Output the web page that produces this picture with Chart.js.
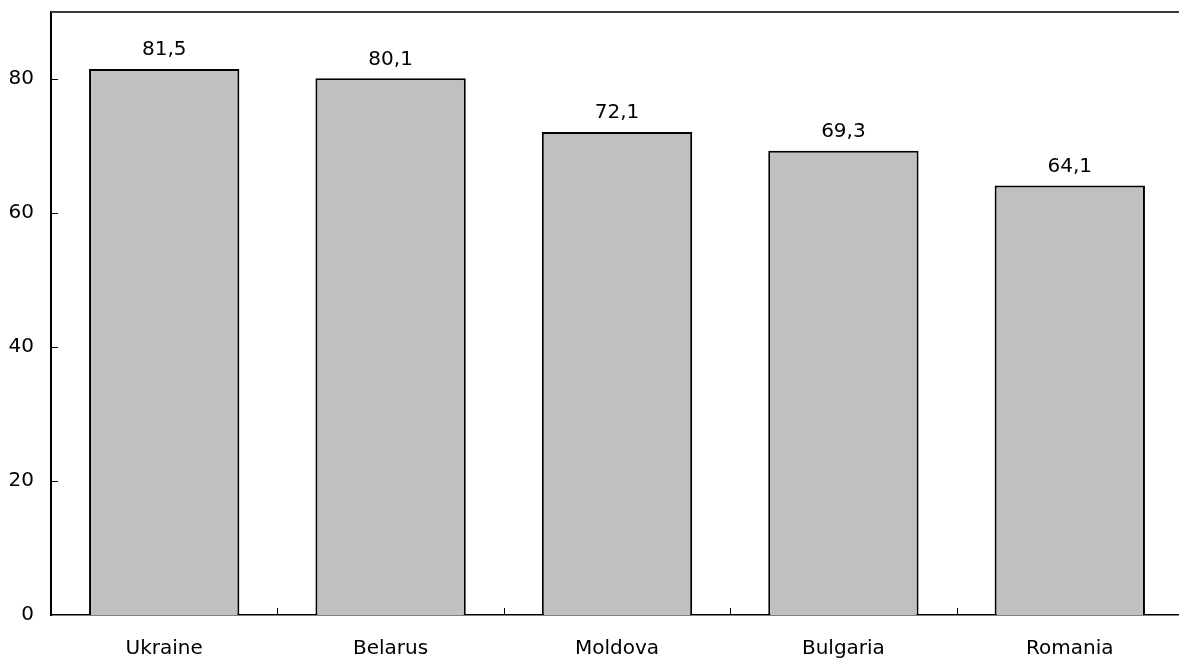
<!DOCTYPE html>
<html>
<head>
<meta charset="utf-8">
<script src="https://cdn.jsdelivr.net/npm/chart.js@4"></script>
<style>
  html, body { margin: 0; padding: 0; background: #fff; overflow: hidden; }
  #wrap { position: relative; width: 1183px; height: 659px; }
</style>
</head>
<body>
<div id="wrap"><canvas id="barChart"></canvas></div>
<script>
// Values per country, shown with a decimal comma above each bar
const countries = ['Ukraine', 'Belarus', 'Moldova', 'Bulgaria', 'Romania'];
const values = [81.5, 80.1, 72.1, 69.3, 64.1];
const yTicks = [0, 20, 40, 60, 80];

const FONT = { family: 'DejaVu Sans', size: 20 };

// top border line, inward tick marks and value labels
const framePlugin = {
    id: 'frameTicks',
    afterDraw(chart) {
        const { ctx, chartArea, scales } = chart;
        const x = scales.x, y = scales.y;
        ctx.save();
        ctx.strokeStyle = '#3a3a3a';
        ctx.lineWidth = 2;
        ctx.beginPath();
        ctx.moveTo(chartArea.left, chartArea.top);
        ctx.lineTo(chartArea.right + 5, chartArea.top);
        ctx.stroke();

        ctx.strokeStyle = '#000';
        ctx.lineWidth = 1;
        yTicks.slice(1).forEach(v => {
            const py = Math.round(y.getPixelForValue(v)) + 0.5;
            ctx.beginPath();
            ctx.moveTo(chartArea.left, py);
            ctx.lineTo(chartArea.left + 7, py);
            ctx.stroke();
        });
        for (let i = 1; i < countries.length; i++) {
            const px = Math.round((x.getPixelForValue(i - 1) + x.getPixelForValue(i)) / 2) + 0.5;
            ctx.beginPath();
            ctx.moveTo(px, chartArea.bottom);
            ctx.lineTo(px, chartArea.bottom - 7);
            ctx.stroke();
        }

        ctx.fillStyle = '#000';
        ctx.font = FONT.size + 'px ' + FONT.family;
        ctx.textAlign = 'center';
        ctx.textBaseline = 'bottom';
        const meta = chart.getDatasetMeta(0);
        meta.data.forEach((bar, i) => {
            const label = values[i].toFixed(1).replace('.', ',');
            ctx.fillText(label, bar.x, bar.y - 9);
        });
        ctx.restore();
    }
};

new Chart(document.getElementById('barChart'), {
    type: 'bar',
    data: {
        labels: countries,
        datasets: [{
            data: values,
            backgroundColor: '#c0c0c0',
            borderColor: '#000',
            borderWidth: 2,
            borderSkipped: 'bottom',
            barPercentage: 0.664,
            categoryPercentage: 1
        }]
    },
    options: {
        responsive: true,
        maintainAspectRatio: false,
        animation: false,
        layout: { padding: { top: 12, right: 0, left: 0, bottom: 0 } },
        plugins: { legend: { display: false }, tooltip: { enabled: false } },
        scales: {
            x: {
                grid: { display: false, drawTicks: false },
                border: { display: true, color: '#000', width: 1.5 },
                ticks: { color: '#000', font: FONT, padding: 22 },
                afterFit(scale) {
                    scale.height = 44;
                    scale.paddingLeft = 0;
                    scale.paddingRight = 0;
                }
            },
            y: {
                min: 0,
                max: 90,
                afterBuildTicks(scale) { scale.ticks = yTicks.map(v => ({ value: v })); },
                grid: { display: false, drawTicks: false },
                border: { display: true, color: '#000', width: 2 },
                ticks: { color: '#000', font: FONT, padding: 17 },
                afterFit(scale) {
                    scale.width = 51;
                    scale.paddingTop = 0;
                    scale.paddingBottom = 0;
                }
            }
        }
    },
    plugins: [framePlugin]
});
</script>
</body>
</html>
